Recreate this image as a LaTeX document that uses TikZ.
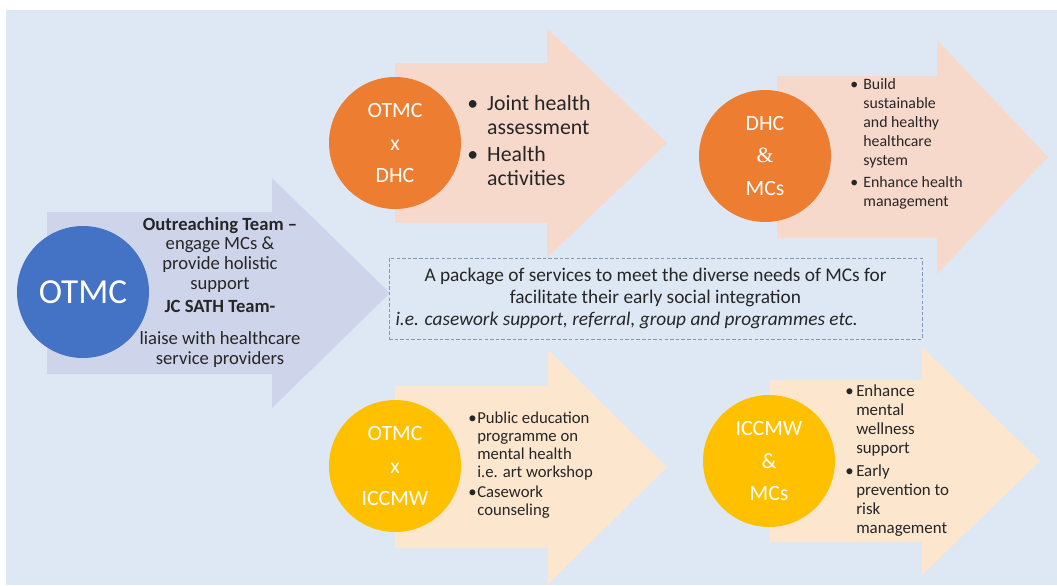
\documentclass[tikz,border=0pt]{standalone}
\usepackage{fontspec}
\setmainfont{Carlito}
\newfontfamily\ampfont{Liberation Serif}
\usepackage{tikz}
\usetikzlibrary{positioning}
\definecolor{bgblue}{HTML}{DEE8F4}
\definecolor{lavender}{HTML}{CED5EA}
\definecolor{peach}{HTML}{F7D9CC}
\definecolor{cream}{HTML}{FCE6CE}
\definecolor{otblue}{HTML}{4472C4}
\definecolor{dhcorange}{HTML}{ED7D31}
\definecolor{iccgold}{HTML}{FFC000}
\definecolor{dashblue}{HTML}{8397B4}
\tikzstyle{hub} =
[circle, minimum size = 2.64cm, inner sep = 0pt, text = white,
align = center, font = \fontsize{12.4}{18.5}\selectfont]
\tikzstyle{bullets} =
[inner sep = 0pt, text = black!85, align = left]
\tikzstyle{package} =
[rectangle, minimum width = 10.66cm, minimum height = 1.62cm, inner sep = 0pt,
draw = dashblue, dash pattern = on 2pt off 1.2pt, line width = 0.5pt,
align = center, text = black!85, font = \fontsize{11}{12.6}\selectfont]

\begin{document}
\begin{tikzpicture}[x = 0.2mm, y = -0.2mm, node distance = 1.5cm]
  \useasboundingbox (0,0) rectangle (1057,585);
  \fill [white] (0,0) rectangle (1057,585);
  \fill [bgblue] (6,10) rectangle (1057,585);
  % arrows
  \fill [lavender] (47,212) -- (272,212) -- (272,178) -- (390,293)
    -- (272,408) -- (272,374) -- (47,374) -- cycle;
  \fill [peach] (395,63) -- (547,63) -- (547,28) -- (667,143)
    -- (547,258) -- (547,223) -- (395,223) -- cycle;
  \fill [peach] (777,76) -- (937,76) -- (937,40) -- (1048,157)
    -- (937,274) -- (937,238) -- (777,238) -- cycle;
  \fill [cream] (395,386) -- (548,386) -- (548,350) -- (667,467)
    -- (548,584) -- (548,548) -- (395,548) -- cycle;
  \fill [cream] (770,380) -- (922,380) -- (922,347) -- (1040,461)
    -- (922,575) -- (922,542) -- (770,542) -- cycle;
  %
  % circles
  \node [hub, fill = otblue, font = \fontsize{20}{24}\selectfont] (otmc)
   at (83,292) {OTMC};
  \node [hub, fill = dhcorange] (otmcdhc) at (395,143) {OTMC\\x\\DHC};
  \node [hub, fill = dhcorange] (dhcmc) at (765,156)
   {DHC\\{\ampfont\&}\\MCs};
  \node [hub, fill = iccgold] (otmciccmw) at (395,466) {OTMC\\x\\ICCMW};
  \node [hub, fill = iccgold] (iccmwmc) at (769,461) {ICCMW\\\&\\MCs};
  %
  % texts next to the circles
  \node [right of = otmc, node distance = 2.74cm, align = center,
   text = black!85, font = \fontsize{10.6}{11.3}\selectfont] (teamtxt)
   {\textbf{Outreaching Team --}\\engage MCs \&\\provide holistic\\support\\[1.7pt]
    \textbf{JC SATH Team-}\\[6.8pt]liaise with healthcare\\service providers};
  \node [bullets, right of = otmcdhc, node distance = 1.44cm, anchor = west,
   font = \fontsize{12.4}{13.6}\selectfont] (jointtxt)
   {\begin{tabular}{@{}p{11.3pt}@{}l@{}}
      \textbullet & Joint health\\ & assessment\\[1.7pt]
      \textbullet & Health\\ & activities
    \end{tabular}};
  \node [bullets, right of = dhcmc, node distance = 1.7cm, anchor = west,
   yshift = 0.24cm, font = \fontsize{9}{10.8}\selectfont] (buildtxt)
   {\begin{tabular}{@{}p{7.4pt}@{}l@{}}
      \textbullet & Build\\ & sustainable\\ & and healthy\\ & healthcare\\
        & system\\[1.7pt]
      \textbullet & Enhance health\\ & management
    \end{tabular}};
  \node [bullets, right of = otmciccmw, node distance = 1.46cm, anchor = west,
   font = \fontsize{9.5}{10.2}\selectfont] (publictxt)
   {\begin{tabular}{@{}p{5.1pt}@{}l@{}}
      \textbullet & Public education\\ & programme on\\ & mental health\\
        & i.e. art workshop\\[1.7pt]
      \textbullet & Casework\\ & counseling
    \end{tabular}};
  \node [bullets, right of = iccmwmc, node distance = 1.52cm, anchor = west,
   font = \fontsize{9.6}{10.8}\selectfont] (enhancetxt)
   {\begin{tabular}{@{}p{6.2pt}@{}l@{}}
      \textbullet & Enhance\\ & mental\\ & wellness\\ & support\\[2.3pt]
      \textbullet & Early\\ & prevention to\\ & risk\\ & management
    \end{tabular}};
  %
  % dashed box in the middle
  \node [package] (packagebox) at (655.5,298.5)
   {A package of services to meet the diverse needs of MCs for\\
    facilitate their early social integration\\
    \makebox[10.4cm][l]{\itshape i.e. casework support, referral, group and
    programmes etc.}};
\end{tikzpicture}
\end{document}
